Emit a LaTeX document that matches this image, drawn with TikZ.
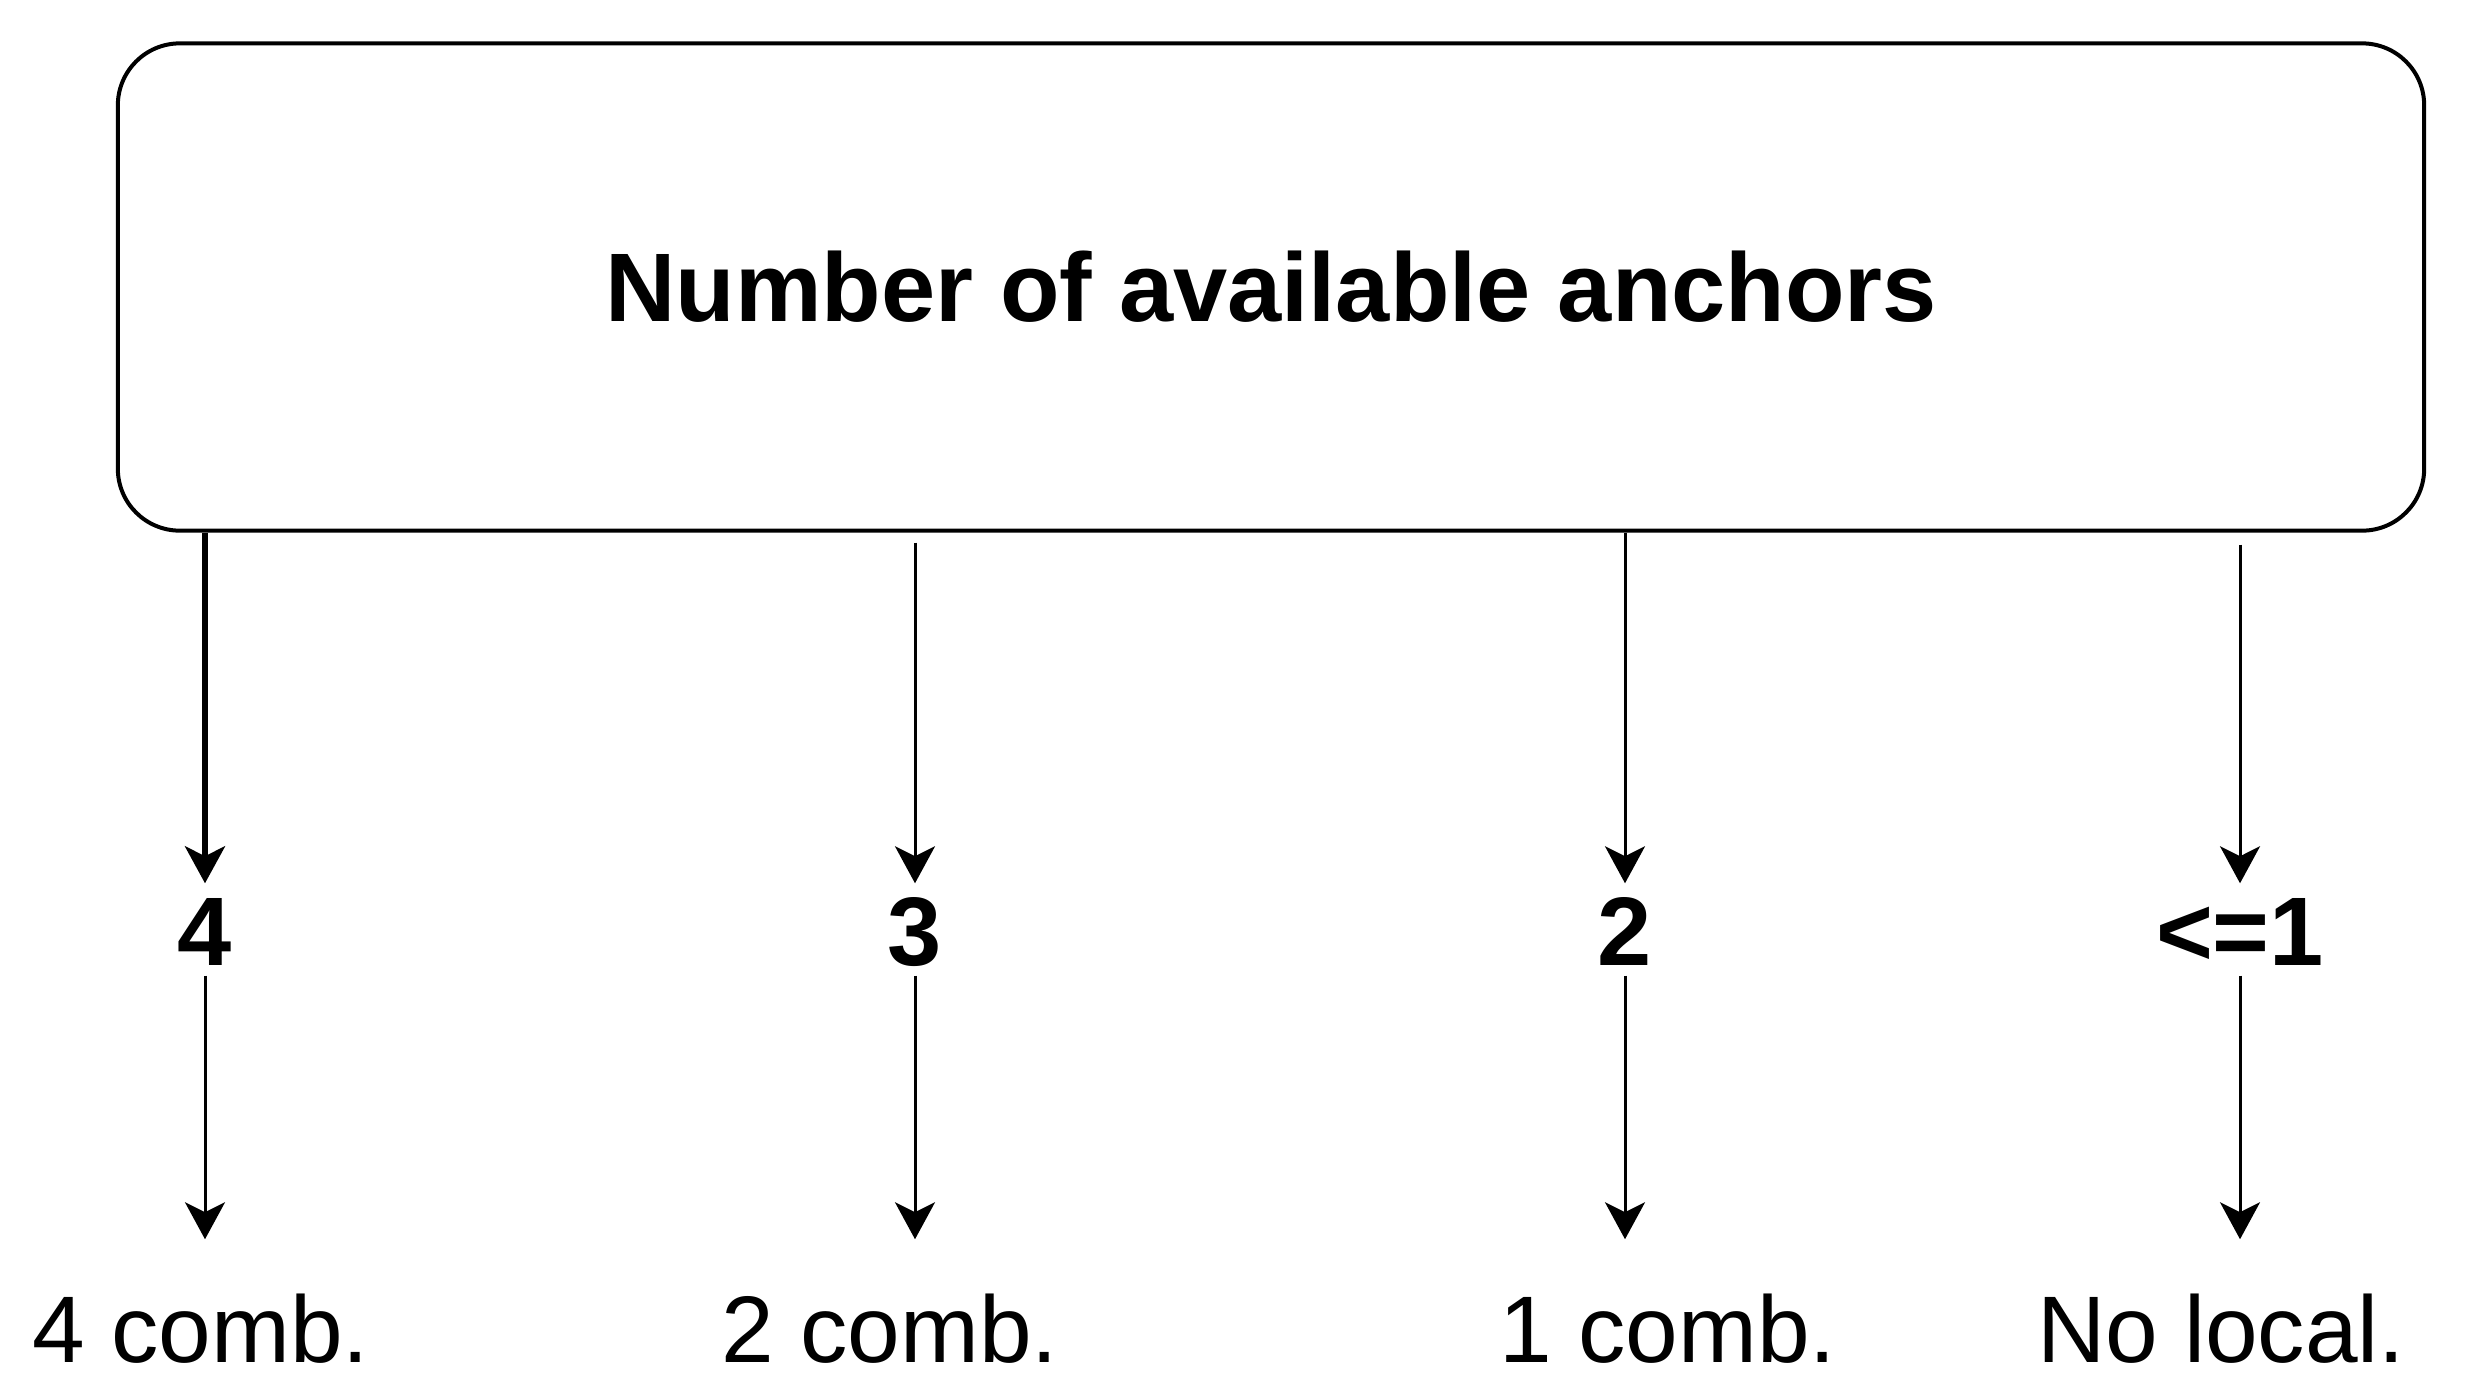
\documentclass[tikz,border=0pt]{standalone}
\usepackage{fontspec}
\setmainfont{Liberation Sans}
\usetikzlibrary{arrows.meta}
\begin{document}
\begin{tikzpicture}[x=0.01cm, y=-0.01cm,
    every node/.style={inner sep=0pt},
    topbox/.style={draw, line width=0.04cm, rounded corners=0.62cm, minimum width=23.05cm, minimum height=4.87cm, font=\fontsize{27.7pt}{33pt}\selectfont\bfseries},
    count/.style={anchor=base, text height=0.71cm, text depth=0pt, inner ysep=0.1cm, font=\fontsize{27.7pt}{33pt}\selectfont\bfseries},
    result/.style={anchor=base, text height=0.67cm, text depth=0pt, inner ysep=0.55cm, font=\fontsize{26.9pt}{32pt}\selectfont},
    arr/.style={-{Stealth[length=0.37cm, width=0.4cm, inset=0.1cm]}, line width=0.03cm}]
      \useasboundingbox (0,0) rectangle (2467,1399);
      \node (box) at (1271,287) [topbox] {Number of available anchors};
      \node (n4) at (205,965) [count] {4};
      \node (n3) at (915,965) [count] {3};
      \node (n2) at (1625,965) [count] {2};
      \node (n1) at (2240,965) [count] {<=1};
      \node (c4) at (201,1362) [result] {4 comb.};
      \node (c3) at (890,1362) [result] {2 comb.};
      \node (c2) at (1668,1362) [result] {1 comb.};
      \node (c1) at (2221,1362) [result] {No local.};
      \foreach \dest/\lw/\gap in {n4/0.06/0, n3/0.03/0.1, n2/0.03/0, n1/0.03/0.12}
        \draw[arr, line width=\lw cm, shorten <=\gap cm] (box.south -| \dest) -- (\dest);
      \foreach \source/\dest in {n4/c4, n3/c3, n2/c2, n1/c1}
        \draw[arr] (\source) -- (\source |- \dest.north);
    \end{tikzpicture}
\end{document}
